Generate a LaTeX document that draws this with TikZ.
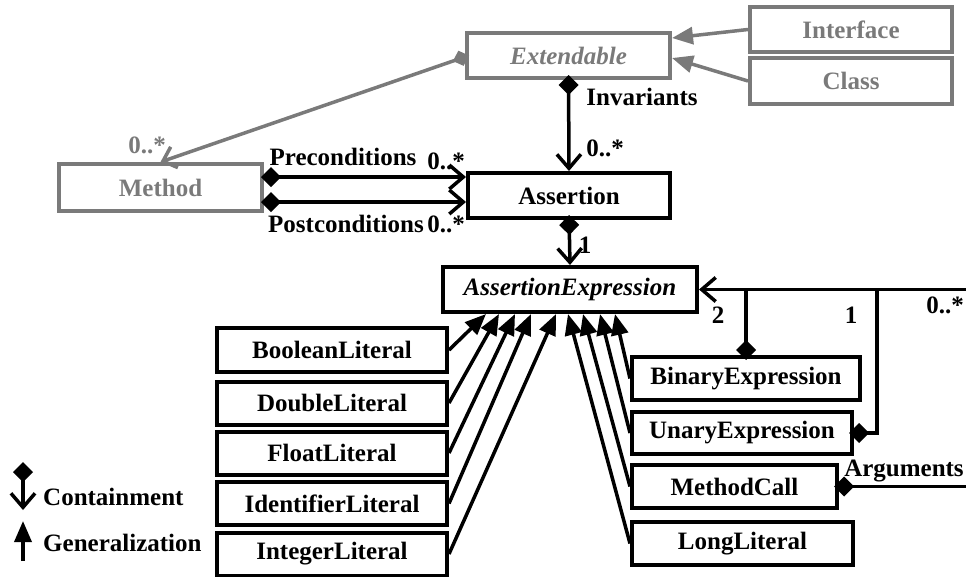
\documentclass[tikz,border=0pt]{standalone}
\usepackage{fontspec}
\setmainfont{Liberation Serif}
\usetikzlibrary{arrows.meta,calc}
\definecolor{gry}{RGB}{122,122,122}
\tikzset{
  box/.style={draw, line width=4pt, inner sep=0pt, minimum height=43pt,
    font=\fontsize{25}{28}\selectfont\bfseries},
  graybox/.style={box, draw=gry, text=gry},
  lbl/.style={inner sep=0pt, font=\fontsize{25}{28}\selectfont\bfseries},
  contain/.style={line width=3.5pt,
    {Diamond[length=20pt,width=20pt]}-{Straight Barb[length=14pt,width=24pt]}},
  diaonly/.style={line width=3.5pt, {Diamond[length=20pt,width=20pt]}-},
  openend/.style={line width=3.5pt, -{Straight Barb[length=14pt,width=24pt]}},
  gen/.style={line width=3.5pt, -{Triangle[length=21pt,width=17pt]}},
}
\begin{document}
\begin{tikzpicture}[x=1pt, y=-1pt]
\useasboundingbox (0,0) rectangle (966,576);

% classes of the extension model
\node[graybox, minimum width=203pt, minimum height=45pt] (ext) at (568.5,55.5) {\itshape Extendable};
\node[graybox, minimum width=202pt, minimum height=45pt] (iface) at (851,29.5) {Interface};
\node[graybox, minimum width=202pt, minimum height=46pt] (cls) at (851,81) {Class};
\node[graybox, minimum width=203pt, minimum height=47pt] (method) at (160.5,187.5) {Method};

% assertion classes
\node[box, minimum width=202pt, minimum height=45pt] (assertion) at (569,195.5) {Assertion};
\node[box, minimum width=254pt, minimum height=45pt] (ae) at (570,289.5) {\itshape AssertionExpression};

% literal subclasses (left column)
\node[box, minimum width=230pt, minimum height=44pt] (bool) at (332,350) {BooleanLiteral};
\node[box, minimum width=230pt] (dbl) at (332,403) {DoubleLiteral};
\node[box, minimum width=230pt] (flt) at (332,453) {FloatLiteral};
\node[box, minimum width=230pt] (ident) at (332,503.5) {IdentifierLiteral};
\node[box, minimum width=230pt] (intl) at (332,554) {IntegerLiteral};

% expression subclasses (right column)
\node[box, minimum width=228pt] (bin) at (746,378.5) {BinaryExpression};
\node[box, minimum width=220pt, minimum height=42pt] (un) at (742,433) {UnaryExpression};
\node[box, minimum width=205pt] (mc) at (734.5,486.5) {MethodCall};
\node[box, minimum width=221pt] (ll) at (742.5,543.5) {LongLiteral};

% gray associations
\draw[gry, line width=3.5pt, {Diamond[length=17pt,width=16pt]}-{Straight Barb[length=12pt,width=22pt]}]
  ($(ext.west)+(4,0)$) -- (method.north);
\node[lbl, text=gry] (mult0) at (147,145) {0..*};
\draw[gry, gen] (iface.west) -- ($(ext.east)+(0,-17.5)$);
\draw[gry, gen] (cls.west) -- ($(ext.east)+(0,2.5)$);

% invariants
\draw[contain] ($(ext.south)+(0,-5)$) -- (assertion.north);
\node[lbl] (linv) at (642,97) {Invariants};
\node[lbl] (minv) at (605,148) {0..*};

% pre- and postconditions
\draw[contain] ($(method.east)+(-3,-10.5)$) -- ($(assertion.west)+(0,-18.5)$);
\draw[contain] ($(method.east)+(-3,14.5)$) -- ($(assertion.west)+(0,6.5)$);
\node[lbl] (lpre) at (343,157) {Preconditions};
\node[lbl] (mpre) at (446,161) {0..*};
\node[lbl] (lpost) at (346,224) {Postconditions};
\node[lbl] (mpost) at (446,224) {0..*};

% assertion expression
\draw[contain] ($(assertion.south)+(0,-5)$) -- (ae.north);
\node[lbl] (mexp) at (585,245) {1};

% generalizations to AssertionExpression
\draw[gen] (bool.east)  -- ($(ae.south west)+(45,0)$);
\draw[gen] (dbl.east)   -- ($(ae.south west)+(58,0)$);
\draw[gen] (flt.east)   -- ($(ae.south west)+(74,0)$);
\draw[gen] (ident.east) -- ($(ae.south west)+(90,0)$);
\draw[gen] (intl.east)  -- ($(ae.south west)+(115,0)$);
\draw[gen] (ll.west)    -- ($(ae.south west)+(127,0)$);
\draw[gen] (mc.west)    -- ($(ae.south west)+(142,0)$);
\draw[gen] (un.west)    -- ($(ae.south west)+(159,0)$);
\draw[gen] (bin.west)   -- ($(ae.south west)+(174,0)$);

% operands and arguments
\path (ae.east) ++(270,0) coordinate (rim);
\coordinate (joinU) at (877,289.5);
\draw[openend] (rim) -- (ae.east);
\draw[diaonly] ($(bin.north)+(0,5)$) -- (bin.north |- ae.east);
\draw[diaonly] ($(un.east)+(-5,0)$) -| (joinU);
\draw[diaonly] ($(mc.east)+(-5,0)$) -- (mc.east -| rim);
\node[lbl] (mbin) at (718,315) {2};
\node[lbl] (mun) at (851,315) {1};
\node[lbl] (marg) at (945,305) {0..*};
\node[lbl] (larg) at (904,471) {Arguments};

% legend
\coordinate (legA) at (23,462);
\coordinate (legB) at (23,510);
\coordinate (legC) at (23,561);
\coordinate (legD) at (23,521);
\draw[contain] (legA) -- (legB);
\draw[gen] (legC) -- (legD);
\node[lbl, anchor=west] (lcont) at (43,497) {Containment};
\node[lbl, anchor=west] (lgen) at (43,543) {Generalization};
\end{tikzpicture}
\end{document}
